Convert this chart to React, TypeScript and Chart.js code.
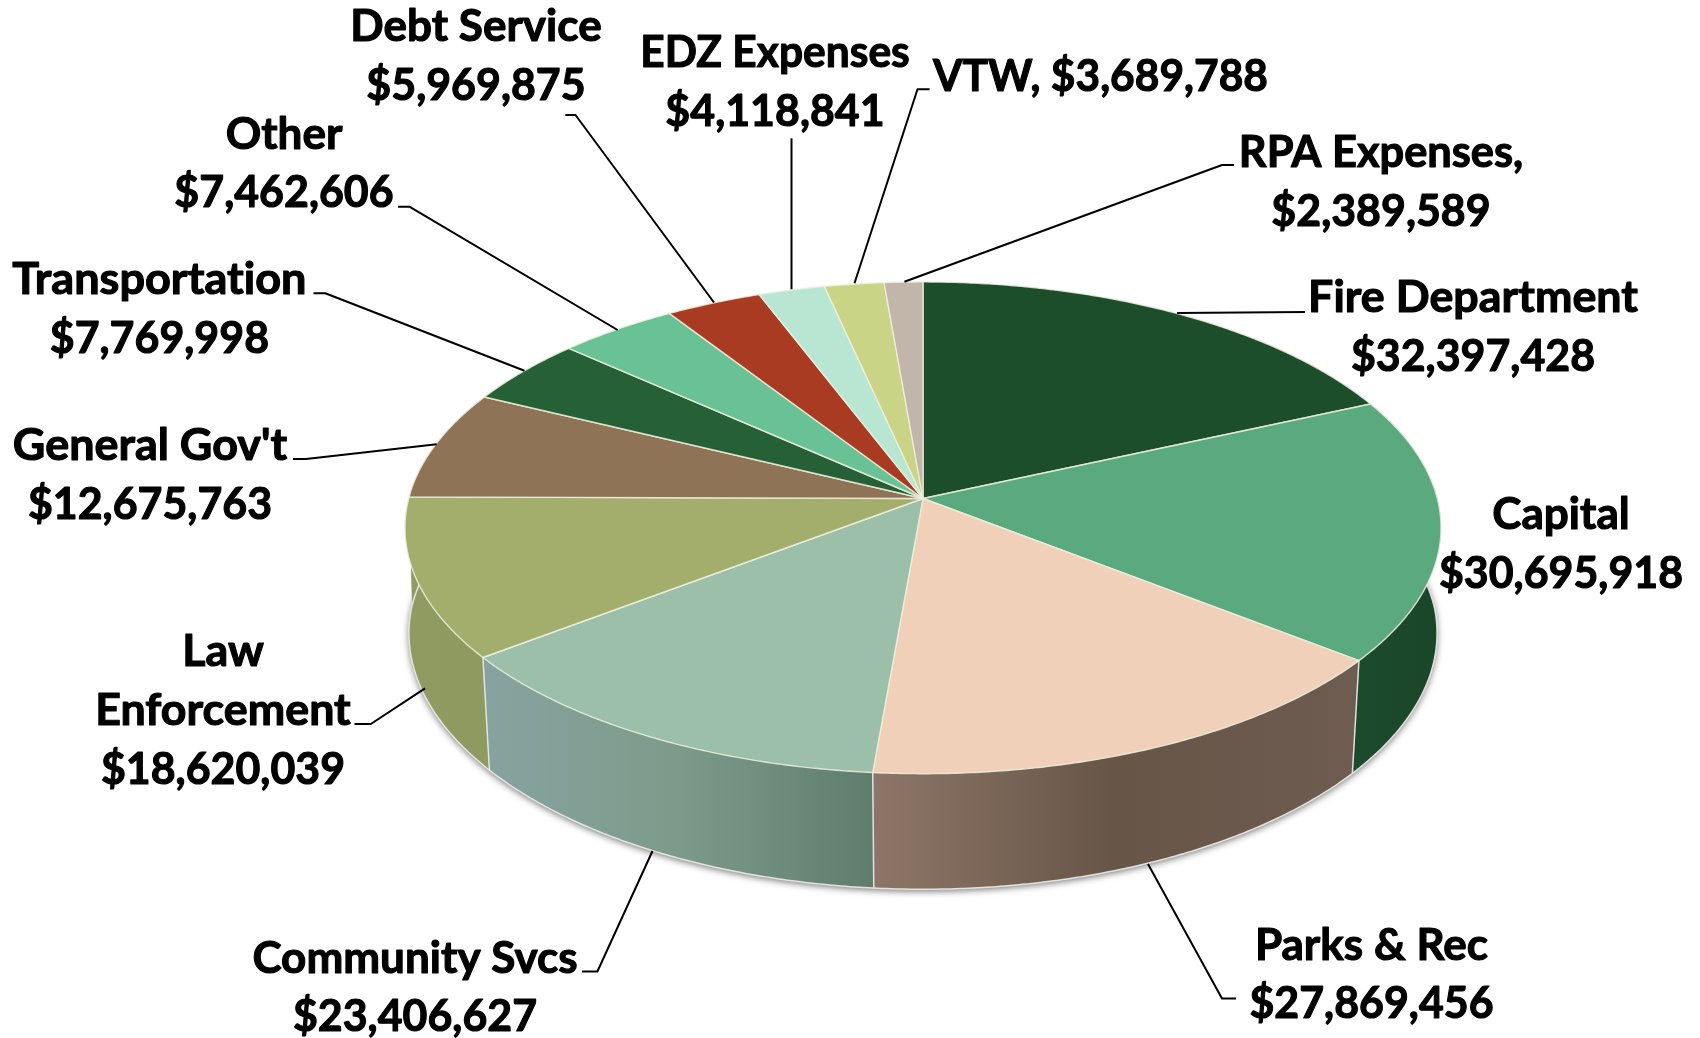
import React, { useEffect, useRef } from "react";
import { Chart, registerables, ArcElement } from "chart.js";

Chart.register(...registerables);

const categories = [
  "Fire Department", "Capital", "Parks & Rec", "Community Svcs", "Law Enforcement", "General Gov't",
  "Transportation", "Other", "Debt Service", "EDZ Expenses", "VTW", "RPA Expenses",
];
const values = [
  32397428, 30695918, 27869456, 23406627, 18620039, 12675763,
  7769998, 7462606, 5969875, 4118841, 3689788, 2389589,
];
const topColors = [
  "#1d4e2c", "#5aa97f", "#f0d0b9", "#9cbfa9", "#a3ae6c", "#8f7356",
  "#266036", "#69c295", "#a93b22", "#b8e6d3", "#c9d486", "#c2b5a9",
];
const wallStops = [
  ["#1c4a2b", "#1c4a2b"], ["#1c4b2c", "#1a4529"], ["#8d7667", "#675548", "#6e5c50"], ["#86a3a0", "#7d9b8a", "#5f7d6d"],
  ["#8f9b60", "#8e9a5f"], ["#8f9b60", "#8f9b60"], ["#8f9b60", "#8f9b60"], ["#8f9b60", "#8f9b60"],
  ["#8f9b60", "#8f9b60"], ["#8ab0a0", "#8ab0a0"], ["#98a064", "#98a064"], ["#92887f", "#92887f"],
];

const money = (v: number) => "$" + v.toLocaleString("en-US");

// label text lines, x centre, first baseline
const labelText: string[][] = [
  [categories[0], money(values[0])],
  [categories[1], money(values[1])],
  [categories[2], money(values[2])],
  [categories[3], money(values[3])],
  ["Law", "Enforcement", money(values[4])],
  [categories[5], money(values[5])],
  [categories[6], money(values[6])],
  [categories[7], money(values[7])],
  [categories[8], money(values[8])],
  [categories[9], money(values[9])],
  [categories[10] + ", " + money(values[10])],
  [categories[11] + ",", money(values[11])],
];
const labelPos = [
  [1473, 312], [1561, 529], [1371.5, 959.5], [415, 972.5], [223, 665.7], [150, 459.7],
  [159.4, 293.8], [284, 148.5], [476, 41], [775, 67], [1100.5, 90.5], [1381, 167],
];
const nameSqueeze = [1.017, 1, 1, 1, 1.017, 1.02, 1.023, 1, 1, 0.965, 0.965, 0.985];
const leaders: number[][][] = [
  [[1305, 312], [1177, 313]],
  [],
  [[1236, 998.5], [1222, 998.5], [1148, 864]],
  [[582, 971.5], [597.4, 971.5], [652.5, 851]],
  [[354.5, 724], [370.8, 724], [425, 688.3]],
  [[293, 459], [306, 459], [436.7, 444.3]],
  [[313.5, 293.3], [325.3, 293.3], [524.5, 370.7]],
  [[398, 206.7], [409.4, 206.7], [617.6, 330]],
  [[565.3, 115], [575.5, 115], [714, 302.5]],
  [[791.5, 138.3], [791.5, 289.3]],
  [[929.6, 89.3], [917.5, 89.3], [854.5, 283.3]],
  [[1234, 165], [1222, 165], [904.4, 281.7]],
];

const PERSPECTIVE = -0.1192;
const RADIUS_X = 514.3;
const RADIUS_Y = 242.4;
const WALL_DEPTH = 108.2;
const WALL_DEPTH_SLOPE = 7.35;
const FONT = "bold 44px Lato";
const MONEY_SQUEEZE = 0.975;
const TEXT_EMBOLDEN = 1.1;
const LINE_GAP = 58.9;

type P = { x: number; y: number };
const topPoint = (cx: number, cy: number, a: number): P => {
  const u = Math.cos(a);
  const v = Math.sin(a);
  const w = 1 + PERSPECTIVE * v;
  return { x: cx + (RADIUS_X * u) / w, y: cy + (RADIUS_Y * v) / w };
};
const bottomPoint = (cx: number, cy: number, a: number): P => {
  const p = topPoint(cx, cy, a);
  const v = Math.sin(a);
  const scale = 0.994 - 0.0145 * Math.max(v, 0);
  return {
    x: cx + (p.x - cx) * scale,
    y: p.y + WALL_DEPTH + WALL_DEPTH_SLOPE * v,
  };
};
const sample = (a0: number, a1: number) => {
  const n = Math.max(2, Math.ceil(Math.abs(a1 - a0) / 0.008));
  const out: number[] = [];
  for (let i = 0; i <= n; i++) out.push(a0 + ((a1 - a0) * i) / n);
  return out;
};

// The library's arc elements keep their computed angles; only the projection differs.
(ArcElement.prototype as any).draw = function (ctx: CanvasRenderingContext2D) {
  const { x, y, startAngle, endAngle } = this.getProps(["x", "y", "startAngle", "endAngle"]);
  const o = this.options;
  ctx.save();
  ctx.beginPath();
  ctx.moveTo(x, y);
  for (const a of sample(startAngle, endAngle)) {
    const p = topPoint(x, y, a);
    ctx.lineTo(p.x, p.y);
  }
  ctx.closePath();
  ctx.fillStyle = o.backgroundColor;
  ctx.fill();
  ctx.strokeStyle = o.borderColor;
  ctx.lineWidth = o.borderWidth;
  ctx.lineJoin = "round";
  ctx.stroke();
  ctx.restore();
};

const walls3d = {
  id: "walls3d",
  beforeDatasetsDraw(chart: any) {
    const ctx: CanvasRenderingContext2D = chart.ctx;
    const arcs = chart.getDatasetMeta(0).data;
    const { x: cx, y: cy } = arcs[0];

    // soft drop shadow below the disc
    ctx.save();
    ctx.shadowColor = "rgba(0,0,0,0.55)";
    ctx.shadowBlur = 7;
    ctx.shadowOffsetY = 2;
    ctx.fillStyle = "#777";
    ctx.beginPath();
    sample(-0.7, Math.PI + 0.7).forEach((a, i) => {
      const p = bottomPoint(cx, cy, a);
      if (i) ctx.lineTo(p.x, p.y);
      else ctx.moveTo(p.x, p.y);
    });
    ctx.closePath();
    ctx.fill();
    ctx.restore();

    arcs.forEach((arc: any, i: number) => {
      const a0 = Math.max(arc.startAngle, -0.8);
      const a1 = Math.min(arc.endAngle, Math.PI + 0.8);
      if (a1 <= a0) return;
      const top = sample(a0, a1).map((a) => topPoint(cx, cy, a));
      const bot = sample(a0, a1).map((a) => bottomPoint(cx, cy, a));
      const xs = [...top, ...bot].map((p) => p.x);
      const g = ctx.createLinearGradient(Math.min(...xs), 0, Math.max(...xs), 0);
      const stops = wallStops[i];
      stops.forEach((c, j) => g.addColorStop(j / (stops.length - 1), c));
      ctx.beginPath();
      top.forEach((p, j) => (j ? ctx.lineTo(p.x, p.y) : ctx.moveTo(p.x, p.y)));
      bot.reverse().forEach((p) => ctx.lineTo(p.x, p.y));
      ctx.closePath();
      ctx.fillStyle = g;
      ctx.fill();
    });

    // rim highlight along the lower edge
    ctx.save();
    ctx.strokeStyle = "rgba(232,232,228,0.95)";
    ctx.lineWidth = 1.5;
    ctx.beginPath();
    sample(-0.1, Math.PI + 0.1).forEach((a, i) => {
      const p = bottomPoint(cx, cy, a);
      if (i) ctx.lineTo(p.x, p.y);
      else ctx.moveTo(p.x, p.y);
    });
    ctx.stroke();
    // seams on the wall
    arcs.forEach((arc: any) => {
      const a = arc.startAngle;
      if (a <= 0 || a >= Math.PI) return;
      const t = topPoint(cx, cy, a);
      const b = bottomPoint(cx, cy, a);
      ctx.beginPath();
      ctx.moveTo(t.x, t.y);
      ctx.lineTo(b.x, b.y);
      ctx.stroke();
    });
    ctx.restore();
  },
};

const labels3d = {
  id: "labels3d",
  afterDatasetsDraw(chart: any) {
    const ctx: any = chart.ctx;
    ctx.save();
    ctx.strokeStyle = "#000";
    ctx.lineWidth = 2;
    ctx.lineJoin = "round";
    leaders.forEach((pts) => {
      if (!pts.length) return;
      ctx.beginPath();
      pts.forEach(([x, y], i) => (i ? ctx.lineTo(x, y) : ctx.moveTo(x, y)));
      ctx.stroke();
    });
    ctx.font = FONT;
    ctx.letterSpacing = "0.02px";
    ctx.fillStyle = "#000";
    ctx.textAlign = "center";
    ctx.textBaseline = "alphabetic";
    ctx.lineWidth = TEXT_EMBOLDEN;
    labelText.forEach((lines, i) => {
      const [x, y] = labelPos[i];
      lines.forEach((t, j) => {
        ctx.save();
        ctx.translate(x, y + j * LINE_GAP);
        ctx.scale(t[0] === "$" ? MONEY_SQUEEZE : nameSqueeze[i], 1);
        ctx.fillText(t, 0, 0);
        ctx.strokeText(t, 0, 0);
        ctx.restore();
      });
    });
    ctx.restore();
  },
};

export default function App() {
  const ref = useRef<HTMLCanvasElement>(null);
  useEffect(() => {
    document.body.style.margin = "0";
    const chart = new Chart(ref.current!, {
      type: "pie",
      data: {
        labels: categories,
        datasets: [
          {
            data: values,
            backgroundColor: topColors,
            borderColor: "rgba(238,240,222,0.85)",
            borderWidth: 1.4,
          },
        ],
      },
      options: {
        responsive: false,
        animation: false,
        layout: { padding: { left: 146, bottom: 41 } },
        plugins: { legend: { display: false }, tooltip: { enabled: false } },
      },
      plugins: [walls3d, labels3d],
    });
    return () => chart.destroy();
  }, []);
  return (
    <div style={{ position: "absolute", left: 0, top: 0, width: 1700, height: 1038, background: "#fff" }}>
      <canvas ref={ref} width={1700} height={1038} style={{ display: "block" }} />
    </div>
  );
}
